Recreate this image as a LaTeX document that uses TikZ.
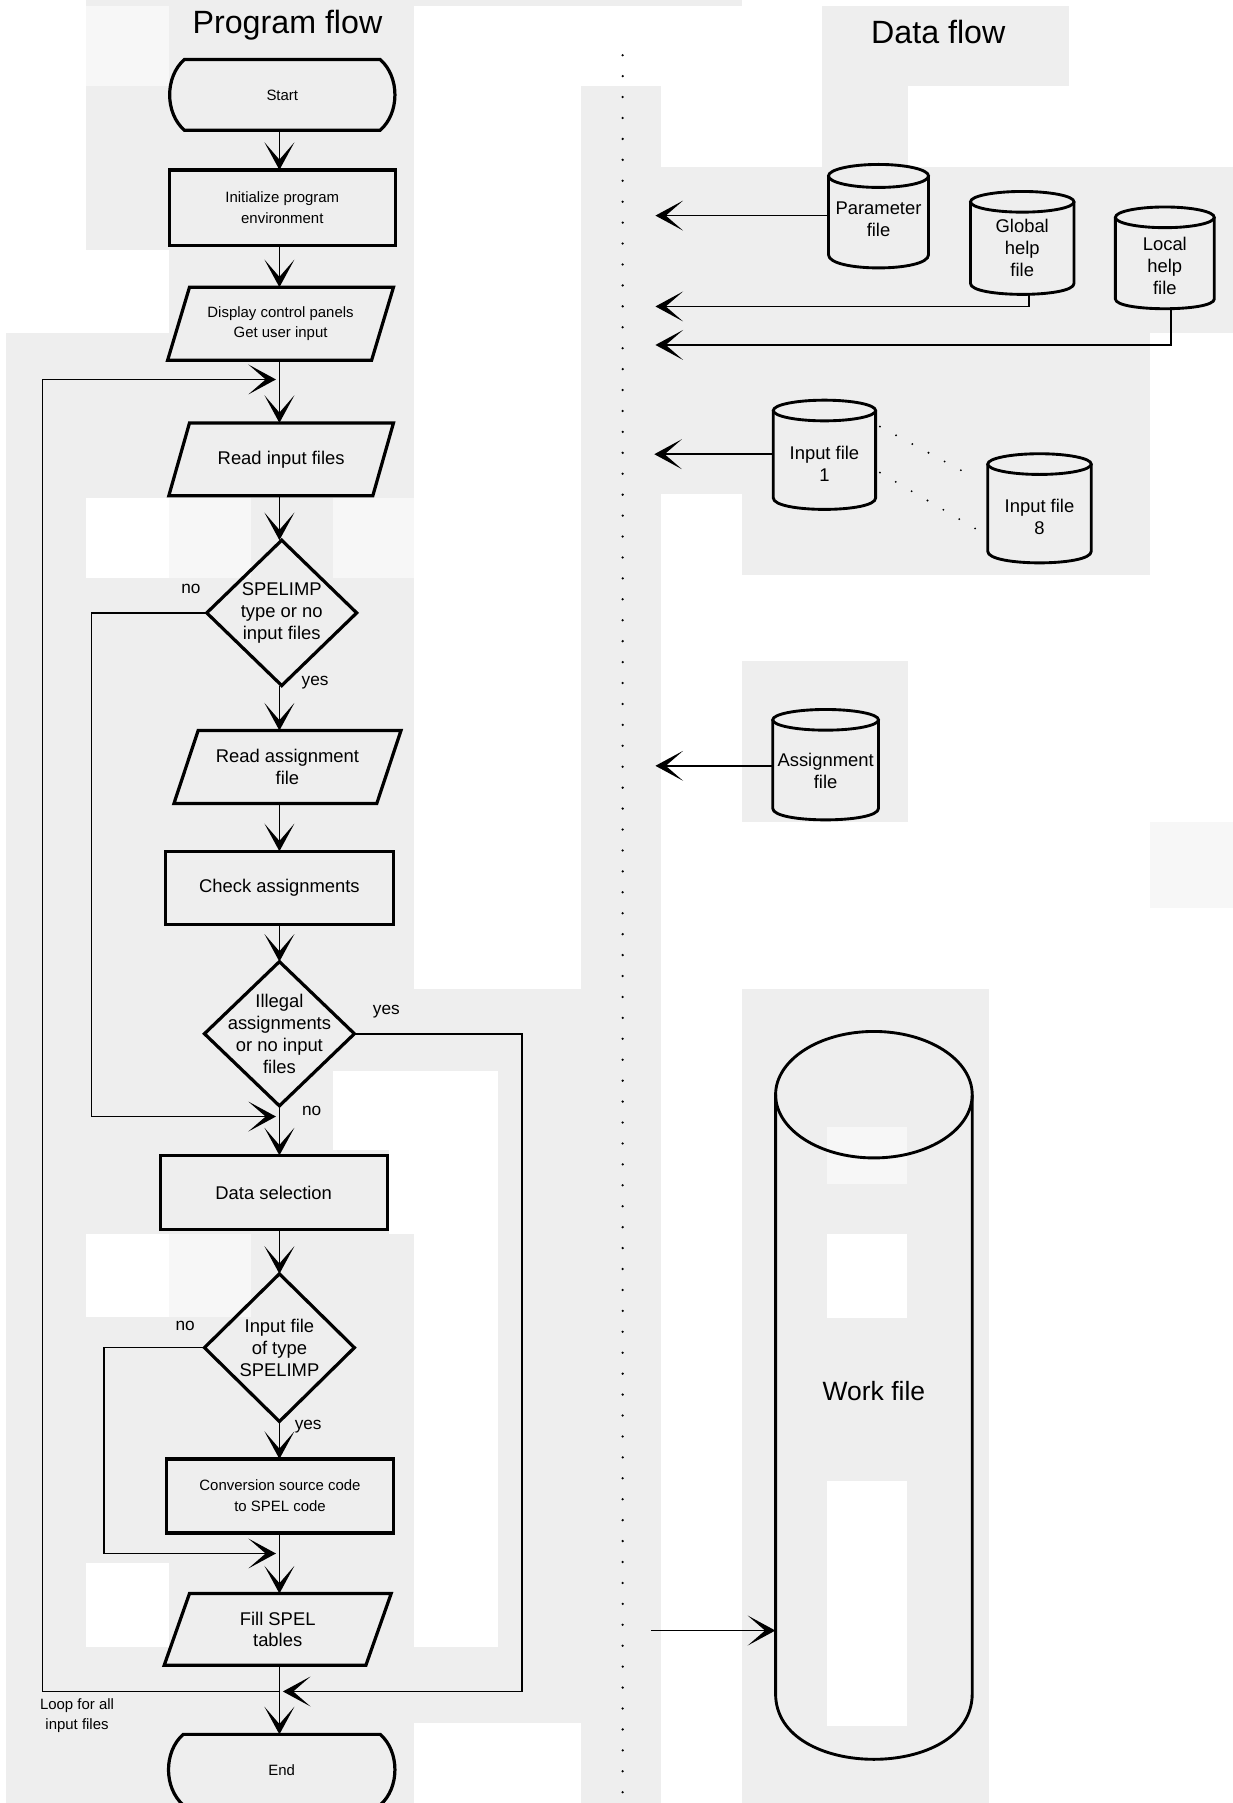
\documentclass[tikz,border=0pt]{standalone}
\usepackage{fontspec}
\setmainfont{Liberation Sans}
\usetikzlibrary{arrows.meta}
\definecolor{bg}{HTML}{EEEEEE}
\definecolor{bgl}{HTML}{F7F7F7}
\tikzset{
  shp/.style={line width=2.8pt, line join=miter},
  cylline/.style={line width=2.5pt},
  con/.style={line width=1.4pt},
  arr/.style={con, -{Stealth[length=24pt, width=26pt, inset=15pt]}},
  box/.style={draw=none, inner sep=0pt, align=center, font=\fontsize{16}{19}\selectfont},
  boxs/.style={box, font=\fontsize{13}{18}\selectfont},
  lbl/.style={inner sep=0pt, font=\fontsize{15}{18}\selectfont},
  ttl/.style={inner sep=0pt, font=\fontsize{28}{32}\selectfont},
  dots/.style={line width=2.2pt, dash pattern=on 0pt off 18.2pt, line cap=round},
  fdots/.style={line width=1.8pt, dash pattern=on 0pt off 16pt, line cap=round},
}
\newcommand\cylshape[6]{% cx, top, side end, rx, ry, bulge
  \draw[cylline] ({#1-#4},{#2+#5}) -- ({#1-#4},#3) .. controls ({#1-#4},{#3+4/3*#6}) and ({#1+#4},{#3+4/3*#6}) .. ({#1+#4},#3) -- ({#1+#4},{#2+#5});
  \draw[cylline] (#1,{#2+#5}) ellipse [x radius=#4pt, y radius=#5pt];
}
\newcommand\paral[2]{%
  \draw[shp] ([xshift=#2pt]#1.north west) -- (#1.north east) -- ([xshift=-#2pt]#1.south east) -- (#1.south west) -- cycle;}
\newcommand\termshape[1]{%
  \draw[shp] ([xshift=13pt]#1.north west) -- ([xshift=-13pt]#1.north east)
    .. controls ([xshift=4pt,yshift=-15pt]#1.north east) and ([xshift=4pt,yshift=15pt]#1.south east) .. ([xshift=-13pt]#1.south east)
    -- ([xshift=13pt]#1.south west)
    .. controls ([xshift=-4pt,yshift=15pt]#1.south west) and ([xshift=-4pt,yshift=-15pt]#1.north west) .. cycle;}
\newcommand\diamshape[1]{%
  \draw[shp] (#1.north) -- (#1.east) -- (#1.south) -- (#1.west) -- cycle;}
\begin{document}
\begin{tikzpicture}[x=1pt,y=-1pt]
\useasboundingbox (0,0) rectangle (1072,1568);
% background patches
\fill[white] (0,0) rectangle (1072,1568);
\fill[bg] (75,0) rectangle (645,5);
\fill[bg] (75,5) rectangle (360,1568);
\fill[bg] (5,290) rectangle (75,1568);
\fill[bg] (360,860) rectangle (575,1568);
\fill[bg] (505,75) rectangle (575,860);
\fill[bg] (715,5) rectangle (930,75);
\fill[bg] (715,75) rectangle (790,145);
\fill[bg] (575,145) rectangle (1072,290);
\fill[bg] (575,290) rectangle (1000,500);
\fill[bg] (645,575) rectangle (790,715);
\fill[bg] (645,860) rectangle (860,1568);
\fill[bgl] (1000,715) rectangle (1072,790);
\fill[bgl] (75,5) rectangle (147,75);
\fill[white] (75,217) rectangle (147,290);
\fill[white] (75,433) rectangle (147,503);
\fill[bgl] (147,433) rectangle (218,503);
\fill[bgl] (290,433) rectangle (360,503);
\fill[white] (575,430) rectangle (645,500);
\fill[white] (360,931) rectangle (433,1432);
\fill[white] (290,931) rectangle (360,1000);
\fill[white] (338,1000) rectangle (360,1073);
\fill[white] (75,1073) rectangle (147,1145);
\fill[bgl] (147,1073) rectangle (218,1145);
\fill[white] (75,1359) rectangle (147,1432);
\fill[white] (360,1498) rectangle (505,1568);
\fill[bgl] (719,980) rectangle (789,1030);
\fill[white] (719,1073) rectangle (789,1146);
\fill[white] (719,1288) rectangle (789,1501);

% titles
\node[ttl] (ptitle) at (250,22) {Program flow};
\node[ttl] (dtitle) at (816,28) {Data flow};

% separator
\draw[dots] (541.5,48) -- (541.5,1568);

% program flow nodes
\node[boxs, minimum width=196pt, minimum height=61pt] (start) at (245.5,82.5) {Start};
\node[boxs, minimum width=196pt, minimum height=65pt] (init) at (245.5,180.5) {Initialize program\\environment};
\node[boxs, minimum width=196pt, minimum height=63pt] (disp) at (244,281.5) {Display control panels\\Get user input};
\node[box, minimum width=195pt, minimum height=63pt] (read) at (244.5,399.5) {Read input files};
\node[box, minimum width=130pt, minimum height=126pt] (d1) at (245,533) {SPELIMP\\type or no\\input files};
\node[box, minimum width=197pt, minimum height=63pt] (rass) at (250,667) {Read assignment\\file};
\node[box, minimum width=198pt, minimum height=63pt] (check) at (243,772) {Check assignments};
\node[box, minimum width=130pt, minimum height=125pt] (d2) at (243,899) {Illegal\\assignments\\or no input\\files};
\node[box, minimum width=197pt, minimum height=64pt] (dsel) at (238,1037) {Data selection};
\node[box, minimum width=130pt, minimum height=128pt] (d3) at (243,1172) {Input file\\of type\\SPELIMP};
\node[boxs, minimum width=197pt, minimum height=64pt] (conv) at (243.5,1301) {Conversion source code\\to SPEL code};
\node[box, minimum width=197pt, minimum height=62pt] (fill) at (241.5,1417) {Fill SPEL\\tables};
\node[boxs, minimum width=197pt, minimum height=61pt] (end) at (245,1539) {End};

\termshape{start}
\draw[shp] (init.north west) rectangle (init.south east);
\paral{disp}{19}
\paral{read}{18}
\diamshape{d1}
\paral{rass}{21}
\draw[shp] (check.north west) rectangle (check.south east);
\diamshape{d2}
\draw[shp] (dsel.north west) rectangle (dsel.south east);
\diamshape{d3}
\draw[shp] (conv.north west) rectangle (conv.south east);
\paral{fill}{22}
\termshape{end}

% labels
\node[lbl] (n1) at (166,512) {no};
\node[lbl] (y1) at (274,594) {yes};
\node[lbl] (y2) at (336,880) {yes};
\node[lbl] (n2) at (271,966) {no};
\node[lbl] (n3) at (161,1153) {no};
\node[lbl] (y3) at (268,1241) {yes};
\node[boxs] (loop) at (67,1492) {Loop for all\\input files};

% program flow connectors
\coordinate (ax) at (243,0);
\coordinate (m1) at (240,330);
\coordinate (m2) at (240,971);
\coordinate (m3) at (240,1351);
\coordinate (m4) at (246,1471);
\coordinate (xl) at (37,0);
\coordinate (xn1) at (79.5,0);
\coordinate (xn3) at (90.5,0);
\coordinate (xr) at (454,0);

\draw[arr] (start.south -| ax) -- (init.north -| ax);
\draw[arr] (init.south -| ax) -- (disp.north -| ax);
\draw[arr] (disp.south -| ax) -- (read.north -| ax);
\draw[arr] (read.south -| ax) -- (d1.north -| ax);
\draw[arr] (d1.south -| ax) -- (rass.north -| ax);
\draw[arr] (rass.south -| ax) -- (check.north -| ax);
\draw[arr] (check.south -| ax) -- (d2.north -| ax);
\draw[arr] (d2.south -| ax) -- (dsel.north -| ax);
\draw[arr] (dsel.south -| ax) -- (d3.north -| ax);
\draw[arr] (d3.south -| ax) -- (conv.north -| ax);
\draw[arr] (conv.south -| ax) -- (fill.north -| ax);
\draw[arr] (fill.south -| ax) -- (end.north -| ax);

\draw[arr] (d1.west) -| (xn1 |- m2) -- (m2);
\draw[arr] (d3.west) -| (xn3 |- m3) -- (m3);
\draw[arr] (d2.east) -| (xr |- m4) -- (m4);
\draw[arr] (ax |- m4) -| (xl |- m1) -- (m1);

% data flow cylinders
\cylshape{764}{143}{221.5}{43.5}{10}{11.5}
\cylshape{889}{166.5}{246.5}{45}{9}{9.5}
\cylshape{1013}{180}{260}{43}{9}{8.5}
\cylshape{717}{348}{433}{44.5}{9}{10}
\cylshape{904}{394.6}{479.5}{45}{9}{10}
\cylshape{718}{617}{703}{46}{9}{10}
\cylshape{760}{897}{1473}{85.5}{55}{57}

\node[box, minimum width=87pt] (param) at (764,191) {Parameter\\file};
\node[box, minimum width=90pt, minimum height=81pt] (glob) at (889,215.5) {Global\\help\\file};
\node[box, minimum width=86pt, minimum height=74pt] (loc) at (1013,231.5) {Local\\help\\file};
\node[box, minimum width=89pt] (in1) at (717,403.5) {Input file\\1};
\node[box, minimum width=90pt] (in8) at (904,449.5) {Input file\\8};
\node[box, minimum width=92pt] (asg) at (718,670.5) {Assignment\\file};
\node[box, minimum width=171pt, font=\fontsize{23}{27}\selectfont] (wf) at (760,1210) {Work file};

% data flow connectors
\coordinate (t1) at (570,187.5);
\coordinate (t2) at (570,266.5);
\coordinate (t3) at (570,300);
\coordinate (t4) at (569,395);
\coordinate (t5) at (570,666);
\coordinate (wsrc) at (566,1418);

\draw[arr] ([yshift=3.5pt]param.west) -- (t1);
\draw[arr] ([xshift=6pt]glob.south) |- (t2);
\draw[arr] ([xshift=5.5pt]loc.south) |- (t3);
\draw[arr] ([yshift=8.5pt]in1.west) -- (t4);
\draw[arr] ([yshift=4.5pt]asg.west) -- (t5);
\draw[arr] (wsrc) -- (wsrc -| wf.west);

\draw[fdots] ([xshift=3.5pt,yshift=32.5pt]in1.east) -- ([xshift=-10pt,yshift=33.5pt]in8.west);
\draw[fdots] ([xshift=3.5pt,yshift=-7.5pt]in1.east) -- ([xshift=-10pt,yshift=-10.5pt]in8.west);
\end{tikzpicture}
\end{document}
